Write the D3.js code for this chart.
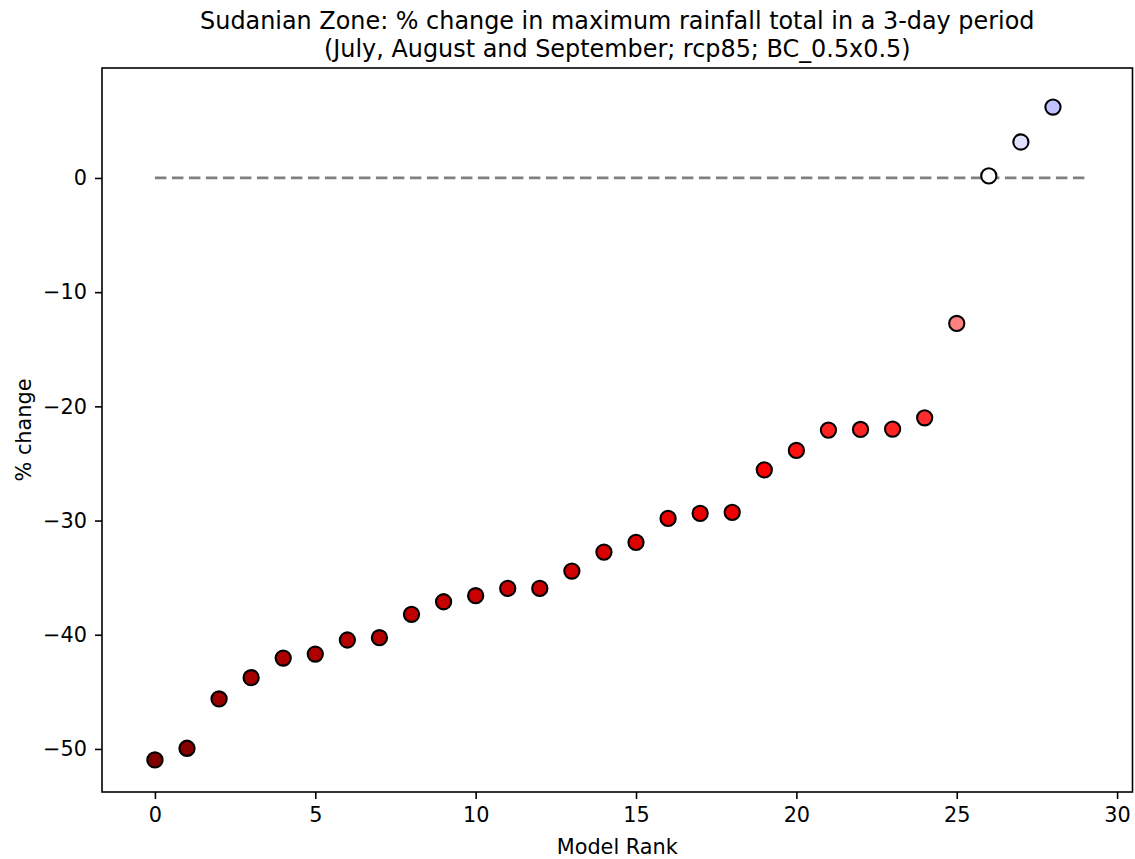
<!DOCTYPE html>
<html>
<head>
<meta charset="utf-8">
<script src="https://cdn.jsdelivr.net/npm/d3@7"></script>
<style>
  html, body { margin: 0; padding: 0; background: #fff; }
  svg { display: block; font-family: "DejaVu Sans", sans-serif; }
</style>
</head>
<body>
<svg id="chart" width="1135" height="859"></svg>
<script>
// ---- data ----
const titleLines = [
  "Sudanian Zone: % change in maximum rainfall total in a 3-day period",
  "(July, August and September; rcp85; BC_0.5x0.5)"
];
const xLabel = "Model Rank";
const yLabel = "% change";
const ranks = d3.range(29);
const values = [
  -50.96, -49.94, -45.62, -43.76, -42.04, -41.69, -40.46, -40.26, -38.21, -37.11,
  -36.58, -35.94, -35.94, -34.42, -32.76, -31.91, -29.81, -29.37, -29.28, -25.56,
  -23.86, -22.08, -22.02, -21.99, -21.00, -12.74, 0.18, 3.15, 6.21
];
const xTicks = [0, 5, 10, 15, 20, 25, 30];
const yTicks = [-50, -40, -30, -20, -10, 0];
const zeroLine = [0, 29];

// ---- layout ----
const svg = d3.select("#chart");
const L = 102, R = 1132.5, T = 68, B = 792;

const x = d3.scaleLinear().domain([-1.65, 30.48]).range([L, R]);
const y = d3.scaleLinear().domain([-53.77, 9.63]).range([B, T]);

// seismic_r colormap, symmetric norm
const vmax = d3.max(values, v => Math.abs(v));
const seismic = d3.scaleLinear()
  .domain([0, 0.25, 0.5, 0.75, 1])
  .range(["rgb(0,0,77)", "rgb(0,0,255)", "rgb(255,255,255)", "rgb(255,0,0)", "rgb(128,0,0)"])
  .interpolate(d3.interpolateRgb);
const color = v => seismic(0.5 - v / (2 * vmax));

// zero line
svg.append("line")
  .attr("x1", x(zeroLine[0])).attr("x2", x(zeroLine[1]))
  .attr("y1", y(0)).attr("y2", y(0))
  .attr("stroke", "#808080").attr("stroke-width", 2.8)
  .attr("stroke-dasharray", "11.5,5.5");

// points
svg.append("g").selectAll("circle")
  .data(ranks)
  .join("circle")
  .attr("cx", i => x(i))
  .attr("cy", i => y(values[i]))
  .attr("r", 7.6)
  .attr("fill", i => color(values[i]))
  .attr("stroke", "#000")
  .attr("stroke-width", 2.1);

// axes
const fontSize = "20.8px";
const xAxis = svg.append("g").attr("transform", `translate(0,${B})`)
  .call(d3.axisBottom(x).tickValues(xTicks).tickSize(7).tickPadding(8).tickFormat(d3.format("d")));
const yAxis = svg.append("g").attr("transform", `translate(${L},0)`)
  .call(d3.axisLeft(y).tickValues(yTicks).tickSize(7).tickPadding(8)
    .tickFormat(d => d < 0 ? "\u2212" + Math.abs(d) : String(d)));
[xAxis, yAxis].forEach(g => {
  g.select(".domain").remove();
  g.selectAll(".tick line").attr("stroke", "#000").attr("stroke-width", 1.6);
  g.selectAll(".tick text").attr("fill", "#000").style("font-size", fontSize)
    .style("font-family", "DejaVu Sans, sans-serif");
});

// frame
svg.append("rect")
  .attr("x", L).attr("y", T).attr("width", R - L).attr("height", B - T)
  .attr("fill", "none").attr("stroke", "#000").attr("stroke-width", 1.6);

// labels
svg.append("text")
  .attr("x", (L + R) / 2).attr("y", 854)
  .attr("text-anchor", "middle").style("font-size", fontSize)
  .text(xLabel);
svg.append("text")
  .attr("transform", `translate(31,${(T + B) / 2}) rotate(-90)`)
  .attr("text-anchor", "middle").style("font-size", fontSize)
  .text(yLabel);

// title
titleLines.forEach((t, i) => {
  svg.append("text")
    .attr("x", (L + R) / 2).attr("y", 29 + i * 28)
    .attr("text-anchor", "middle").style("font-size", "23.9px")
    .text(t);
});
</script>
</body>
</html>
